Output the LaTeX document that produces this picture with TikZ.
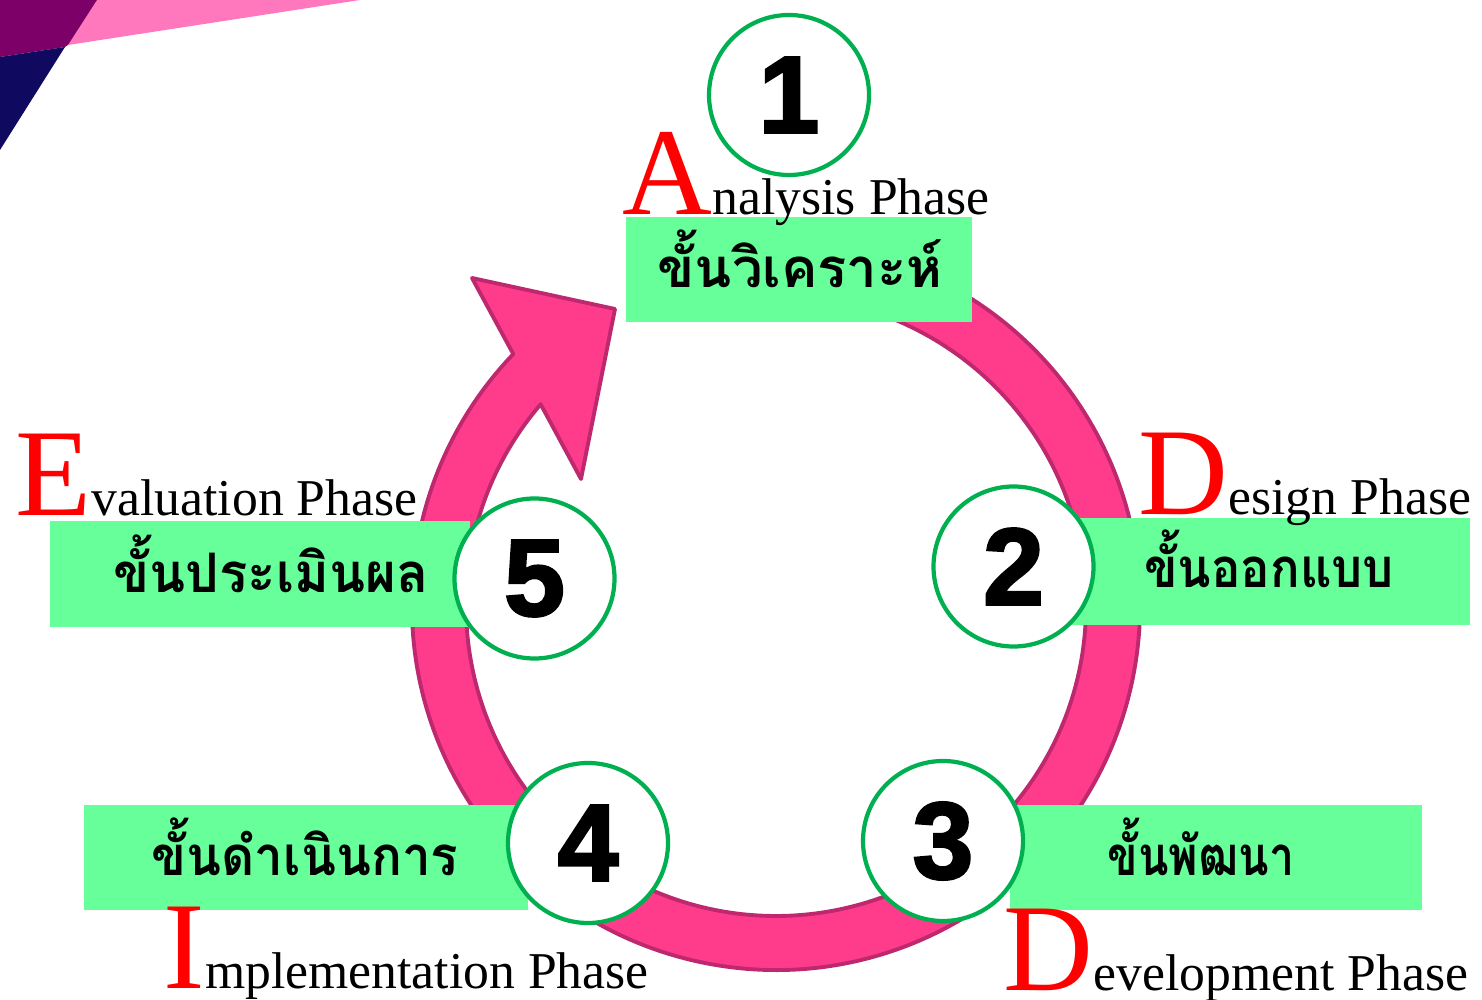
\documentclass[tikz,border=0pt]{standalone}
\usepackage{fontspec}
\setmainfont{Liberation Serif}
\newfontfamily\thaifont[Script=Thai]{Loma}
\newfontfamily\numfont[FakeBold=2.5]{Liberation Sans Bold}
\definecolor{ringfill}{RGB}{255,60,140}
\definecolor{ringedge}{RGB}{190,40,110}
\definecolor{boxgreen}{RGB}{102,255,153}
\definecolor{cgreen}{RGB}{0,176,80}
\definecolor{decopink}{RGB}{255,120,190}
\definecolor{decopurple}{RGB}{125,0,105}
\definecolor{deconavy}{RGB}{15,10,95}
\newcommand\redinitial[1]{{\color{red}\fontsize{35.4}{36}\selectfont #1}}
\tikzset{
  stepnum/.style={circle, draw=cgreen, line width=1.2pt, fill=white, minimum size=1.60cm, inner sep=0pt, font=\numfont\fontsize{31}{31}\selectfont},
  thaibox/.style={fill=boxgreen, inner sep=0pt, draw=none},
  thailabel/.style={anchor=base, inner sep=0pt, transform shape, font=\thaifont\bfseries\fontsize{15.5}{18}\selectfont},
  phase/.style={anchor=base west, inner sep=0pt, font=\fontsize{14.7}{16}\selectfont},
}
\begin{document}
\begin{tikzpicture}[x=1cm,y=1cm]
\useasboundingbox (0,0) rectangle (14.82,-10);
% corner decoration
\fill[decopink] (0.97,0) -- (3.60,0) -- (0.68,-0.45) -- cycle;
\fill[decopurple] (0,0) -- (0.97,0) -- (0.68,-0.45) -- (0.65,-0.47) -- (0,-0.57) -- cycle;
\fill[deconavy] (0,-0.57) -- (0.65,-0.47) -- (0,-1.50) -- cycle;
% cycle arrow
\coordinate (ctr) at (7.76,-6.06);
\draw[fill=ringfill, draw=ringedge, line width=1.1pt, line join=round]
  ([shift={(80:3.64)}]ctr) arc[start angle=80, end angle=-223.8, radius=3.64]
  -- (4.72,-2.78) -- (6.15,-3.09) -- (5.81,-4.79)
  -- ([shift={(139.4:3.10)}]ctr) arc[start angle=139.4, end angle=440, radius=3.10]
  -- cycle;
% green boxes
\node[thaibox, minimum width=3.46cm, minimum height=1.05cm] (b1) at (7.99,-2.695) {};
\node[thaibox, minimum width=4.10cm, minimum height=1.07cm] (b2) at (12.65,-5.715) {};
\node[thaibox, minimum width=4.12cm, minimum height=1.05cm] (b3) at (12.16,-8.575) {};
\node[thaibox, minimum width=4.44cm, minimum height=1.05cm] (b4) at (3.06,-8.575) {};
\node[thaibox, minimum width=4.20cm, minimum height=1.06cm] (b5) at (2.60,-5.74) {};
% thai labels
\node[thailabel] (t1) at (8.00,-2.88) {ขั้นวิเคราะห์};
\node[thailabel, xscale=0.90] (t2) at (12.69,-5.88) {ขั้นออกแบบ};
\node[thailabel, xscale=0.82] (t3) at (12.01,-8.75) {ขั้นพัฒนา};
\node[thailabel, xscale=0.94] (t4) at (3.05,-8.75) {ขั้นดำเนินการ};
\node[thailabel, xscale=0.97] (t5) at (2.71,-5.93) {ขั้นประเมินผล};
% numbered circles
\node[stepnum] (c1) at (7.89,-0.95) {1};
\node[stepnum] (c2) at (10.135,-5.665) {2};
\node[stepnum] (c3) at (9.43,-8.41) {3};
\node[stepnum] (c4) at (5.88,-8.43) {4};
\node[stepnum] (c5) at (5.345,-5.785) {5};
% phase names
\node[phase] (p1) at (6.22,-2.15) {\redinitial{A}nalysis Phase};
\node[phase] (p2) at (11.38,-5.15) {\redinitial{D}esign Phase};
\node[phase] (p3) at (10.03,-9.90) {\redinitial{D}evelopment Phase};
\node[phase] (p4) at (1.63,-9.88) {\redinitial{I}mplementation Phase};
\node[phase] (p5) at (0.15,-5.16) {\redinitial{E}valuation Phase};
\end{tikzpicture}
\end{document}
